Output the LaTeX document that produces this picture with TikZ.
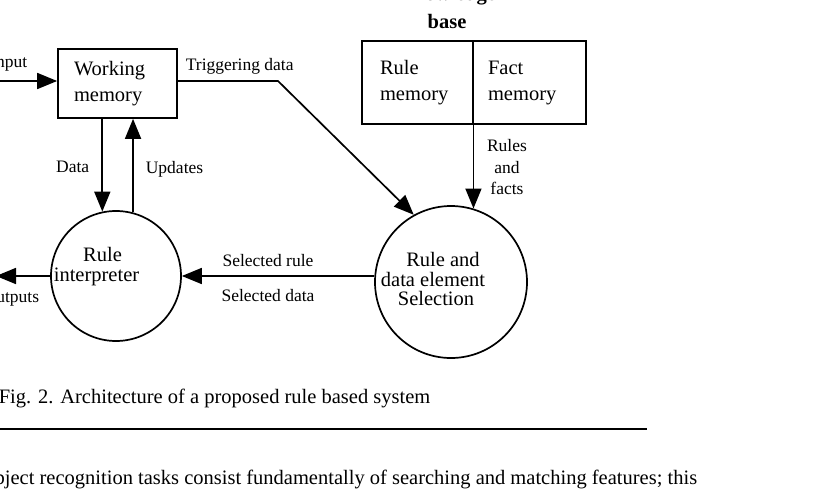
\documentclass[tikz,border=0pt]{standalone}
\usepackage{fontspec}
\setmainfont{Liberation Serif}
\usetikzlibrary{arrows.meta,calc}
\begin{document}
\begin{tikzpicture}[x=1pt,y=-1pt,
  line width=1.7pt,
  arr/.style={-{Triangle[length=20pt,width=16pt]}},
  big/.style={font=\fontsize{20.5}{26}\selectfont},
  small/.style={font=\fontsize{17.5}{21.5}\selectfont},
  lbl/.style={small, inner sep=0pt},
  boxnode/.style={draw, big, align=left, inner ysep=0pt, minimum height=#1},
  round/.style={draw, circle, inner sep=0pt, minimum size=#1}
]
\useasboundingbox (0,0) rectangle (815,488);
\clip (0,0) rectangle (815,488);

% Working memory
\node[boxnode=69pt, text width=87pt, inner xsep=16pt] (wm) at (117.5,83.5) {Working\\memory};

% Knowledge base
\node[big, font=\fontsize{20.5}{28}\selectfont\bfseries, align=center, inner sep=0pt] (kbT) at (447,7) {Knowledge\\base};
\node[boxnode=83pt, text width=75pt, inner xsep=18pt] (kbL) at (417.5,82.5) {Rule\\memory};
\node[boxnode=83pt, text width=83pt, inner xsep=15pt] (kbR) at (529.5,82.5) {Fact\\memory};

% circles
\node[round=130pt] (ri) at (116,276) {};
\node[big, font=\fontsize{20.5}{19.5}\selectfont, align=center, inner sep=0pt] (riT) at (96.5,266.5) {\hspace{12pt}Rule\\interpreter};
\node[round=152pt] (sel) at (451,282) {};
\node[big, font=\fontsize{20.5}{19.5}\selectfont, align=center, inner sep=0pt] (selT) at (433,279) {\hspace{20pt}Rule and\\data element\\\hspace{6pt}Selection};

% input
\coordinate (inStart) at (0,81);
\draw[arr] (inStart) -- (inStart -| wm.west);
\node[lbl, anchor=base east] (inL) at (28,67) {Input};

% triggering data
\coordinate (bend) at (278,81);
\draw[arr] (bend -| wm.east) -- (bend) -- (sel.119);
\node[lbl, anchor=base west] (trL) at (185,70) {Triggering data};

% data / updates
\draw[arr] (wm.south -| ri.102) -- (ri.102);
\draw[arr] (ri.75) -- (wm.south -| ri.75);
\node[lbl, anchor=base east] (dL) at (90,172) {Data};
\node[lbl, anchor=base west] (uL) at (145,173) {Updates};

% rules and facts
\draw[arr] (sel.73 |- kbL.south east) -- (sel.73);
\node[lbl, align=center] (rfL) at (507,167.5) {Rules\\and\\facts};

% selected rule / data
\draw[arr] (sel.west |- ri.east) -- (ri.east);
\node[lbl, anchor=base] (srL) at (268,266) {Selected rule};
\node[lbl, anchor=base] (sdL) at (268,301) {Selected data};

% outputs
\coordinate (outEnd) at (-4,276);
\draw[arr] (ri.west) -- (outEnd);
\node[lbl, anchor=base east] (oL) at (40,302) {Outputs};

% caption and text
\node[big, inner sep=0pt, anchor=base west] (cap) at (-2,403) {Fig. 2. Architecture of a proposed rule based system};
\draw[line width=2.2pt] (0,429) -- (647,429);
\node[big, inner sep=0pt, anchor=base east] (body) at (698,484) {Object recognition tasks consist fundamentally of searching and matching features; this};
\end{tikzpicture}
\end{document}
